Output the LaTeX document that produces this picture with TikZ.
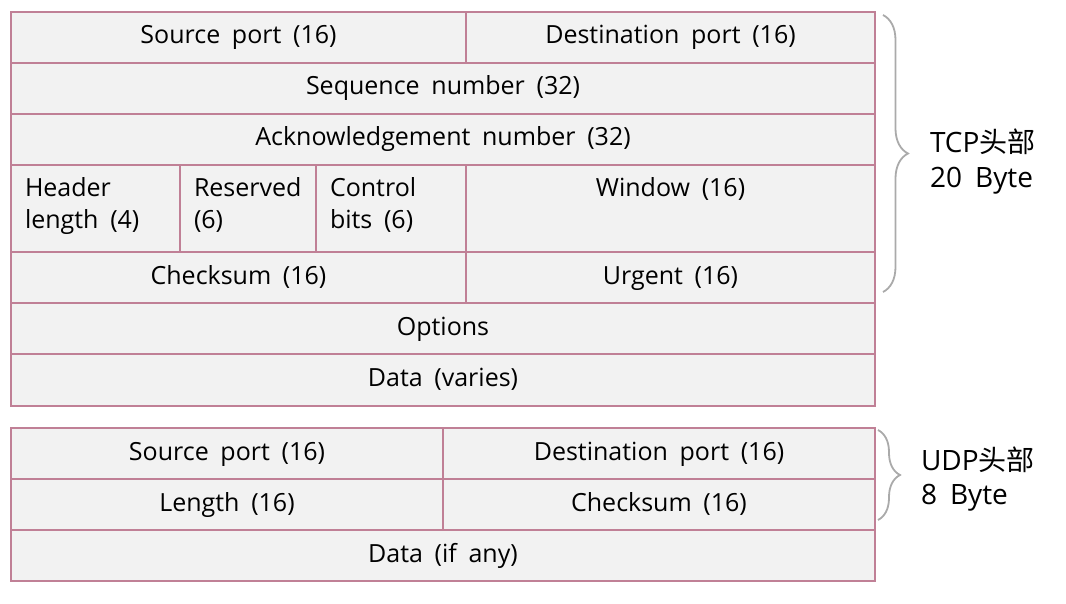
\documentclass[tikz,border=0pt]{standalone}
\usepackage{fontspec}
\setmainfont{Open Sans}[WordSpace=1.8]
\newfontfamily\cjk{Noto Sans CJK SC}
\usetikzlibrary{decorations.pathreplacing}
\definecolor{cellline}{RGB}{192,128,150}
\definecolor{cellfill}{RGB}{242,242,242}
\definecolor{bracegray}{RGB}{170,170,170}
\tikzset{
  cellbox/.style={draw=cellline, fill=cellfill, line width=1.3pt, inner sep=0pt, outer sep=0pt,
    font=\fontsize{25}{32}\selectfont, text height=19pt, text depth=6pt},
  celltext/.style={inner sep=0pt, outer sep=0pt, align=left, font=\fontsize{25}{32}\selectfont},
  bracestyle/.style={draw=bracegray, line width=1.8pt, decorate},
  sidelabel/.style={inner sep=0pt, outer sep=0pt, font=\fontsize{28}{35}\selectfont}
}
\newcommand\mkcell[6]{%
  \node[cellbox, minimum width=#4pt-#2pt, minimum height=#5pt-#3pt] (#1) at ({(#2+#4)/2},{(#3+#5)/2}) {#6};}
\begin{document}
\begin{tikzpicture}[x=1pt, y=-1pt]
\useasboundingbox (0,0) rectangle (1066,604);
% TCP header
\mkcell{sp}{11}{12}{466}{63}{Source port (16)}
\mkcell{dp}{466}{12}{875}{63}{Destination port (16)}
\mkcell{seq}{11}{63}{875}{114}{Sequence number (32)}
\mkcell{ack}{11}{114}{875}{165}{Acknowledgement number (32)}
\mkcell{hl}{11}{165}{180}{252}{}
\mkcell{res}{180}{165}{316}{252}{}
\mkcell{ctl}{316}{165}{466}{252}{}
\mkcell{win}{466}{165}{875}{252}{}
\mkcell{cks}{11}{252}{466}{303}{Checksum (16)}
\mkcell{urg}{466}{252}{875}{303}{Urgent (16)}
\mkcell{opt}{11}{303}{875}{354}{Options}
\mkcell{data}{11}{354}{875}{406}{Data (varies)}
\node[celltext, anchor=north west] (hlt) at (25,178) {Header\\length (4)};
\node[celltext, anchor=north west] (rest) at (194,178) {Reserved\\(6)};
\node[celltext, anchor=north west] (ctlt) at (330,178) {Control\\bits (6)};
\node[celltext, anchor=base] (wint) at (670.5,197) {Window (16)};
% UDP header
\mkcell{usp}{11}{428}{443}{479}{Source port (16)}
\mkcell{udp}{443}{428}{875}{479}{Destination port (16)}
\mkcell{ulen}{11}{479}{443}{530}{Length (16)}
\mkcell{ucks}{443}{479}{875}{530}{Checksum (16)}
\mkcell{udata}{11}{530}{875}{581}{Data (if any)}
% braces
\coordinate (tb1) at (883,15);
\coordinate (tb2) at (883,292);
\draw[bracestyle, decoration={brace, amplitude=25pt}] (tb1) -- (tb2);
\coordinate (ub1) at (878,430);
\coordinate (ub2) at (878,520);
\draw[bracestyle, decoration={brace, amplitude=22pt}] (ub1) -- (ub2);
% labels
\node[sidelabel, anchor=base west] (tcpl) at (930,153) {TCP{\cjk 头部}};
\node[sidelabel, anchor=base west] (tcpb) at (930,188) {20 Byte};
\node[sidelabel, anchor=base west] (udpl) at (921,470) {UDP{\cjk 头部}};
\node[sidelabel, anchor=base west] (udpb) at (921,504) {8 Byte};
\end{tikzpicture}
\end{document}
